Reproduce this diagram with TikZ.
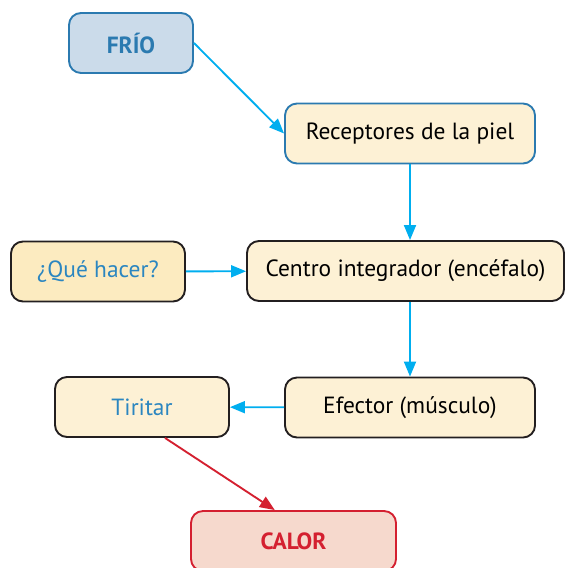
\documentclass[tikz,border=0pt]{standalone}
\usepackage{fontspec}
\setmainfont{PT Sans}
\usetikzlibrary{arrows.meta}

\definecolor{frioFill}{HTML}{CBDBEA}
\definecolor{frioLine}{HTML}{2B7AB0}
\definecolor{creamFill}{HTML}{FDF1D5}
\definecolor{yellowFill}{HTML}{FCEBC0}
\definecolor{darkLine}{HTML}{231F20}
\definecolor{textBlue}{HTML}{2B86C0}
\definecolor{arrowCyan}{HTML}{00AEEF}
\definecolor{calorRed}{HTML}{D42030}
\definecolor{calorFill}{HTML}{F6D9CD}

\tikzset{
  box/.style={draw=darkLine, line width=1.6pt, rectangle, rounded corners=0.36cm, fill=creamFill, minimum height=1.8cm, align=center, font=\fontsize{20}{24}\selectfont},
  flow/.style={-{Triangle[length=0.45cm,width=0.36cm]}, line width=1.6pt, draw=arrowCyan},
}

\begin{document}
\begin{tikzpicture}[x=0.03cm, y=-0.03cm]
        \useasboundingbox (0,0) rectangle (565,568);
        % Nodes
        \node[box, draw=frioLine, fill=frioFill, text=frioLine, minimum width=3.72cm, font=\fontsize{20}{24}\selectfont\bfseries] (frio) at (131,43) {FRÍO};
        \node[box, draw=frioLine, minimum width=7.5cm] (receptores) at (410,133.5) {Receptores de la piel};
        \node[box, fill=yellowFill, text=textBlue, minimum width=5.22cm] (hacer) at (98,271.5) {¿Qué hacer?};
        \node[box, minimum width=9.51cm] (centro) at (405.5,271) {Centro integrador (encéfalo)};
        \node[box, text=textBlue, minimum width=5.22cm] (tiritar) at (142,407) {Tiritar};
        \node[box, minimum width=7.5cm] (efector) at (410,407.5) {Efector (músculo)};
        \node[box, draw=calorRed, fill=calorFill, text=calorRed, minimum width=6.15cm, font=\fontsize{20}{24}\selectfont\bfseries] (calor) at (293.5,541) {CALOR};

        % Arrows
        \draw[flow] (frio.east) -- (receptores.west);
        \draw[flow] (receptores.south) -- (receptores.south |- centro.north);
        \draw[flow] (hacer) -- (centro);
        \draw[flow] (efector.north |- centro.south) -- (efector.north);
        \draw[flow] (efector) -- (tiritar);
        \draw[flow, draw=calorRed] ([xshift=0.69cm]tiritar.south) -- ([xshift=-0.56cm]calor.north);
    \end{tikzpicture}
\end{document}
